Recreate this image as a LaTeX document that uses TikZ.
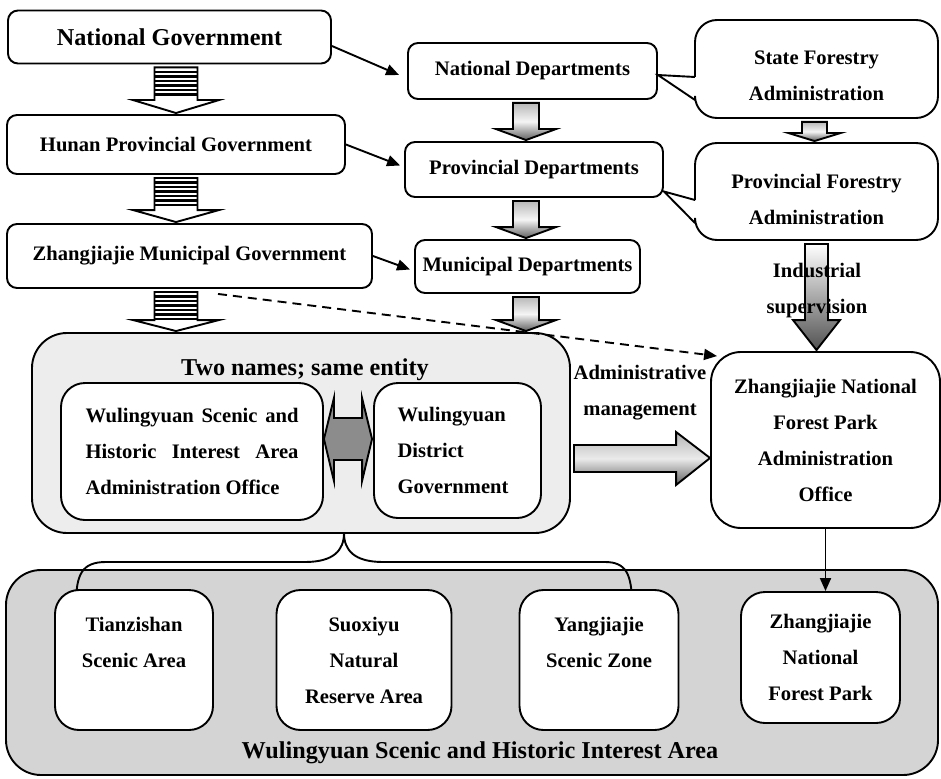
\documentclass[tikz,border=0pt]{standalone}
\usepackage{fontspec}
\setmainfont{Liberation Serif}
\usetikzlibrary{calc,arrows.meta}

\newcommand{\txt}{\fontsize{20.6}{36}\selectfont\bfseries}
\newcommand{\bigtxt}{\fontsize{24.2}{36}\selectfont\bfseries}

% block arrow pointing down from one node to the next
% #1 style, #2 upper node, #3 lower node, #4 centre x, #5 half shaft, #6 half head, #7 head length
\newcommand{\blockdown}[7]{%
  \path[#1] let \p1=(#2.south), \p2=(#3.north) in
    (#4-#5,\y1-3pt) -- (#4+#5,\y1-3pt) -- (#4+#5,\y2+#7pt+1pt)
    -- (#4+#6,\y2+#7pt+1pt) -- (#4,\y2+1pt) -- (#4-#6,\y2+#7pt+1pt)
    -- (#4-#5,\y2+#7pt+1pt) -- cycle;}

\tikzset{
  box/.style={draw, fill=white, rounded corners=10pt, inner sep=0pt, align=center, font=\txt},
  softbox/.style={box, rounded corners=24pt},
  bigbox/.style={box, rounded corners=35pt},
  callout/.style={rounded corners=22pt},
  stripearrow/.style={draw, fill=white,
    path picture={\foreach \k in {1,...,6}
      \draw[line width=2.2pt] ([yshift=-\k*4.5pt]path picture bounding box.north west) -- ++(100,0);}},
  grayarrow/.style={draw, top color=black!28, bottom color=black!62, middle color=black!4},
  supervarrow/.style={draw, top color=white, bottom color=black!68},
  admarrow/.style={draw, top color=black!30, bottom color=black!62, middle color=black!8},
  twinarrow/.style={draw, fill=black!45},
  conn/.style={->},
  dashconn/.style={->, dash pattern=on 9pt off 6pt}
}

\begin{document}
\begin{tikzpicture}[x=1pt, y=-1pt, line width=1.9pt, >={Triangle[length=13pt,width=11pt]}]
  \useasboundingbox (0,0) rectangle (941,778);

  % Government chain on the left
  \node[box, font=\bigtxt, minimum width=323pt, minimum height=53pt] (natgov) at (169.5,37) {National Government};
  \node[box, minimum width=338pt, minimum height=59pt] (hunan) at (176,144.5) {Hunan Provincial Government};
  \node[box, minimum width=365pt, minimum height=64pt] (munigov) at (189.5,256) {Zhangjiajie Municipal Government};

  % Departments in the middle
  \node[box, minimum width=249pt, minimum height=56pt] (natdep) at (532.5,71) {National Departments};
  \node[box, minimum width=258pt, minimum height=55pt] (provdep) at (534,169.5) {Provincial Departments};
  \node[box, minimum width=225pt, minimum height=53pt] (munidep) at (527.5,266.5) {Municipal Departments};

  % Forestry administrations (callouts)
  \node[font=\txt, align=center, minimum width=243pt, minimum height=98pt, text height=63pt] (sfa) at (816.5,69) {State Forestry\\Administration};
  \node[font=\txt, align=center, minimum width=243pt, minimum height=97pt, text height=67pt] (pfa) at (816.5,191.5) {Provincial Forestry\\Administration};
  \draw[callout] (695,77) -- (695,20) -- (938,20) -- (938,118) -- (695,118) -- (695,100);
  \draw (695,100) -- ([yshift=-4pt]natdep.east) -- (695,77);
  \draw[callout] (695,200) -- (695,143) -- (938,143) -- (938,240) -- (695,240) -- (695,223);
  \draw (695,223) -- ([yshift=-22pt]provdep.east) -- (695,200);

  % Park administration office
  \node[box, rounded corners=30pt, minimum width=229pt, minimum height=176pt] (npadmin) at (825.5,440)
    {Zhangjiajie National\\Forest Park\\Administration\\Office};

  % Lower area
  \node[bigbox, fill=black!17, minimum width=932pt, minimum height=205pt] (wsia) at (472,672.5) {};
  \node[font=\bigtxt] (wsialbl) at (480,753) {Wulingyuan Scenic and Historic Interest Area};

  % brace from the district down to the three areas
  \draw (76,605) .. controls (76,574) and (82,562) .. (106,562) -- (305,562)
    .. controls (334,562) and (344,550) .. (344,533)
    .. controls (344,550) and (354,562) .. (383,562) -- (605,562)
    .. controls (626,562) and (632,574) .. (632,605);

  \node[softbox, minimum width=158pt, minimum height=140pt] (tzs) at (134,660) {Tianzishan\\Scenic Area\\~};
  \node[softbox, minimum width=175pt, minimum height=140pt] (sxy) at (364,660) {Suoxiyu\\Natural\\Reserve Area};
  \node[softbox, minimum width=159pt, minimum height=140pt] (yjj) at (599,660) {Yangjiajie\\Scenic Zone\\~};
  \node[softbox, minimum width=159pt, minimum height=131pt] (npfp) at (820.5,657.5) {Zhangjiajie\\National\\Forest Park};

  % Two names, one entity
  \node[bigbox, fill=black!7, minimum width=538pt, minimum height=200pt] (twobox) at (301,433) {};
  \node[font=\bigtxt] (twolbl) at (305,370) {Two names; same entity};
  \node[softbox, minimum width=262pt, minimum height=137pt, text width=213pt, align=justify] (wsha) at (192,451.5)
    {Wulingyuan Scenic and\break Historic Interest Area\break Administration Office};
  \node[softbox, minimum width=167pt, minimum height=135pt, text width=120pt, align=left] (wdg) at (457.5,450.5)
    {Wulingyuan\\District\\Government};

  \path[twinarrow] let \p1=(wsha.east), \p2=(wdg.west) in
    (\x1,439) -- (\x1+10pt,398) -- (\x1+10pt,418) -- (\x2-11pt,418) -- (\x2-11pt,398)
    -- (\x2-1pt,439) -- (\x2-11pt,481) -- (\x2-11pt,460) -- (\x1+10pt,460) -- (\x1+10pt,481) -- cycle;

  % block arrows
  \blockdown{stripearrow}{natgov}{hunan}{176}{21.5}{43}{13}
  \blockdown{stripearrow}{hunan}{munigov}{176}{21.5}{43}{12}
  \blockdown{stripearrow}{munigov}{twobox}{176}{21.5}{43}{11}
  \blockdown{grayarrow}{natdep}{provdep}{526}{13}{30}{11}
  \blockdown{grayarrow}{provdep}{munidep}{526}{13}{30}{11}
  \blockdown{grayarrow}{munidep}{twobox}{526}{13}{30}{11}
  \blockdown{grayarrow}{sfa}{pfa}{814.5}{12.5}{26}{8}
  \blockdown{supervarrow}{pfa}{npadmin}{816.5}{11.5}{23.5}{30}
  \node[font=\txt, align=center] (suplbl) at (817,290.5) {Industrial\\supervision};

  \path[admarrow] let \p1=(twobox.east), \p2=(npadmin.west) in
    (\x1+3pt,445) -- (\x2-34pt,445) -- (\x2-34pt,432) -- (\x2,458)
    -- (\x2-34pt,485) -- (\x2-34pt,472) -- (\x1+3pt,472) -- cycle;
  \node[font=\txt, align=center] (admlbl) at (640,392.5) {Administrative\\management};

  % line connectors
  \draw[conn] ([yshift=-9pt]natgov.east) -- ([xshift=-8pt,yshift=-4pt]natdep.west);
  \draw[conn] (hunan.east) -- ([xshift=-4pt,yshift=4pt]provdep.west);
  \draw[conn] (munigov.east) -- ([xshift=-4pt,yshift=-3pt]munidep.west);
  \draw[dashconn] ([xshift=28.5pt,yshift=-5pt]munigov.south) -- ([xshift=7pt,yshift=-5pt]npadmin.north west);
  \draw[conn] (npadmin.south) -- (npadmin.south |- npfp.north);
\end{tikzpicture}
\end{document}
